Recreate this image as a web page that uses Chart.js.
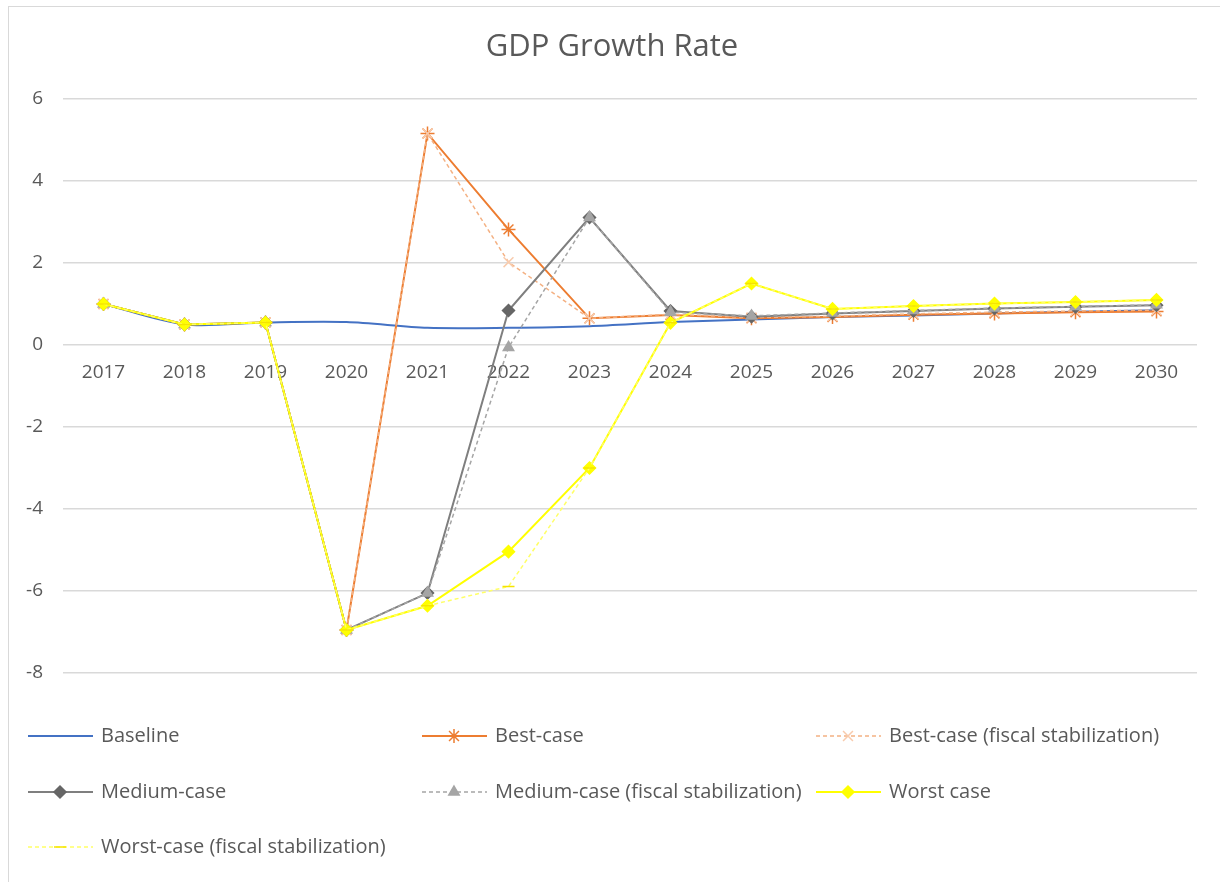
<!DOCTYPE html>
<html>
<head>
<meta charset="utf-8">
<title>GDP Growth Rate</title>
<script src="https://cdn.jsdelivr.net/npm/chart.js@4.4.0/dist/chart.umd.min.js"></script>
<style>
  html, body { margin: 0; padding: 0; background: #fff; }
  #wrap  { position: absolute; left: 0; top: 0; width: 1220px; height: 882px; overflow: hidden; }
  #frame { position: absolute; left: 8px; top: 6px; width: 1230px; height: 890px; border: 1px solid #d9d9d9; }
  canvas { position: absolute; left: 0; top: 0; }
</style>
</head>
<body>
<div id="wrap">
  <div id="frame"></div>
  <canvas id="gdpChart" width="1220" height="882"></canvas>
</div>
<script>
// Data
const years = ["2017", "2018", "2019", "2020", "2021", "2022", "2023", "2024", "2025", "2026", "2027", "2028", "2029", "2030"];
const baseline     = [1.0, 0.5, 0.55, 0.56, 0.42, 0.42, 0.46, 0.56, 0.62, 0.68, 0.72, 0.77, 0.81, 0.85];
const bestCase     = [1.0, 0.5, 0.55, -6.95, 5.16, 2.82, 0.65, 0.73, 0.65, 0.68, 0.74, 0.77, 0.80, 0.82];
const bestFiscal   = [1.0, 0.5, 0.55, -6.95, 5.16, 2.02, 0.65, 0.75, 0.67, 0.70, 0.76, 0.80, 0.83, 0.85];
const mediumCase   = [1.0, 0.5, 0.55, -6.95, -6.05, 0.84, 3.11, 0.83, 0.69, 0.77, 0.83, 0.89, 0.93, 0.97];
const mediumFiscal = [1.0, 0.5, 0.55, -6.95, -6.05, -0.06, 3.11, 0.80, 0.71, 0.78, 0.84, 0.90, 0.94, 0.98];
const worstCase    = [1.0, 0.5, 0.55, -6.95, -6.36, -5.04, -3.0, 0.54, 1.5, 0.88, 0.95, 1.01, 1.05, 1.10];
const worstFiscal  = [1.0, 0.5, 0.55, -6.95, -6.36, -5.89, -3.0, 0.54, 1.5, 0.88, 0.95, 1.01, 1.05, 1.10];
const yMin = -8, yMax = 6, yStep = 2;

const FONT = '"Open Sans", "Noto Sans", sans-serif';
const TEXT = "#595959";

function series(label, data, color, width, dash, style, radius, fill, border) {
  return {
    label: label,
    data: data,
    borderColor: color,
    backgroundColor: color,
    borderWidth: width,
    borderDash: dash,
    pointStyle: style || false,
    pointRadius: style ? radius : 0,
    pointHoverRadius: style ? radius : 0,
    pointBackgroundColor: fill || color,
    pointBorderColor: border || color,
    pointBorderWidth: 1.5,
    tension: 0,
    fill: false
  };
}

const datasets = [
  series("Baseline", baseline, "#4472C4", 2, [], null, 0),
  series("Best-case", bestCase, "#ED7D31", 2, [], "star", 7, "#ED7D31", "#ED7D31"),
  series("Best-case (fiscal stabilization)", bestFiscal, "#F4B183", 1.5, [4, 3], "crossRot", 7, "#F8CBAD", "#F8CBAD"),
  series("Medium-case", mediumCase, "#7F7F7F", 2, [], "rectRot", 6, "#666666", "#666666"),
  series("Medium-case (fiscal stabilization)", mediumFiscal, "#A5A5A5", 1.5, [4, 3], "triangle", 6, "#A5A5A5", "#A5A5A5"),
  series("Worst case", worstCase, "#FFFF00", 2, [], "rectRot", 6, "#FFFF00", "#FFFF00"),
  series("Worst-case (fiscal stabilization)", worstFiscal, "#FFFF66", 1.5, [4, 3], "line", 6, "#F5E400", "#F5E400")
];
// baseline is slightly smoothed in the original
datasets[0].tension = 0.3;
// later series sit on top, like the spreadsheet
datasets.forEach((ds, i) => { ds.order = datasets.length - i; });

// title + three-column legend drawn on the canvas
const decorations = {
  id: "decorations",
  afterDraw(chart) {
    const ctx = chart.ctx;
    ctx.save();
    ctx.fillStyle = TEXT;
    ctx.font = "31px " + FONT;
    ctx.textAlign = "center";
    ctx.textBaseline = "middle";
    ctx.fillText("GDP Growth Rate", 612, 47);

    const colX = [28, 422, 816];
    const rowY = [736, 792, 847];
    chart.data.datasets.forEach((ds, i) => {
      const x = colX[i % 3];
      const y = rowY[Math.floor(i / 3)];
      ctx.strokeStyle = ds.borderColor;
      ctx.lineWidth = ds.borderWidth;
      ctx.setLineDash(ds.borderDash || []);
      ctx.beginPath();
      ctx.moveTo(x, y);
      ctx.lineTo(x + 65, y);
      ctx.stroke();
      ctx.setLineDash([]);
      if (ds.pointStyle) {
        ctx.fillStyle = ds.pointBackgroundColor;
        ctx.strokeStyle = ds.pointBorderColor;
        ctx.lineWidth = ds.pointBorderWidth;
        Chart.helpers.drawPoint(ctx, {
          pointStyle: ds.pointStyle,
          radius: ds.pointRadius,
          borderWidth: ds.pointBorderWidth,
          rotation: 0
        }, x + 32, y);
      }
      ctx.fillStyle = TEXT;
      ctx.font = "20px " + FONT;
      ctx.textAlign = "left";
      ctx.fillText(ds.label, x + 73, y);
    });
    ctx.restore();
  }
};

new Chart(document.getElementById("gdpChart"), {
  type: "line",
  data: { labels: years, datasets: datasets },
  options: {
    responsive: false,
    animation: false,
    layout: { padding: { top: 99, bottom: 209, left: 0, right: 23 } },
    plugins: {
      legend: { display: false },
      title: { display: false },
      tooltip: { enabled: false }
    },
    scales: {
      x: {
        type: "category",
        position: { y: 0 },
        offset: true,
        grid: { display: false, drawTicks: false },
        border: { display: false },
        ticks: {
          color: TEXT,
          font: { size: 19, family: FONT },
          padding: 16,
          maxRotation: 0,
          autoSkip: false
        }
      },
      y: {
        min: yMin,
        max: yMax,
        grid: { color: "#d9d9d9", lineWidth: 1.5, drawTicks: false },
        border: { display: false },
        ticks: {
          stepSize: yStep,
          color: TEXT,
          font: { size: 19, family: FONT },
          padding: 20
        },
        afterFit(scale) { scale.width = 63; }
      }
    }
  },
  plugins: [decorations]
});
</script>
</body>
</html>
